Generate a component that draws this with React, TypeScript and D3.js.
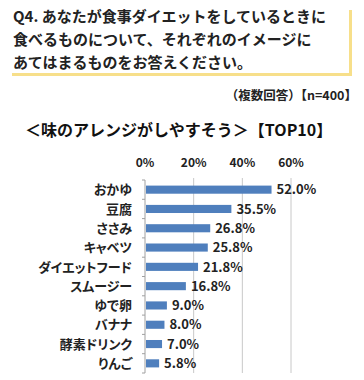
import React, { useEffect, useRef } from "react";
import * as d3 from "d3";

const titleLines = [
  "Q4. あなたが食事ダイエットをしているときに",
  "食べるものについて、それぞれのイメージに",
  "あてはまるものをお答えください。",
];
const noteText = "（複数回答）【n=400】";
const chartTitle = "＜味のアレンジがしやすそう＞【TOP10】";

const categories = [
  "おかゆ",
  "豆腐",
  "ささみ",
  "キャベツ",
  "ダイエットフード",
  "スムージー",
  "ゆで卵",
  "バナナ",
  "酵素ドリンク",
  "りんご",
];
const values = [52.0, 35.5, 26.8, 25.8, 21.8, 16.8, 9.0, 8.0, 7.0, 5.8];
const xTicks = [0, 20, 40, 60];

const W = 364;
const H = 380;
const FONT = "'Noto Sans CJK JP', 'Noto Sans', sans-serif";

export default function App() {
  const ref = useRef<SVGSVGElement>(null);

  useEffect(() => {
    const svg = d3.select(ref.current);
    svg.selectAll("*").remove();

    // header box with yellow shadow
    svg.append("rect")
      .attr("x", 12).attr("y", 73).attr("width", 340).attr("height", 3)
      .attr("fill", "#f7df8a");
    svg.append("rect")
      .attr("x", 349).attr("y", 10).attr("width", 3).attr("height", 66)
      .attr("fill", "#f7df8a");

    svg.selectAll(".qline")
      .data(titleLines)
      .join("text")
      .attr("class", "qline")
      .attr("x", 13)
      .attr("y", (d, i) => 22 + i * 23)
      .style("font-family", FONT)
      .style("font-size", "15px")
      .style("font-weight", "bold")
      .attr("fill", "#222")
      .text(d => d);

    svg.append("text")
      .attr("x", 357).attr("y", 100)
      .attr("text-anchor", "end")
      .style("font-family", FONT)
      .style("font-size", "12.5px")
      .style("font-weight", "bold")
      .attr("fill", "#222")
      .text(noteText);

    svg.append("text")
      .attr("x", 25).attr("y", 136)
      .style("font-family", FONT)
      .style("font-size", "16px")
      .style("font-weight", "bold")
      .attr("fill", "#111")
      .text(chartTitle);

    const x = d3.scaleLinear().domain([0, 60]).range([145, 291]);
    const y = d3.scaleBand().domain(categories).range([180, 373])
      .paddingInner(0.58).paddingOuter(0.29);

    const g = svg.append("g");

    // gridlines
    g.selectAll(".grid")
      .data(xTicks.slice(1))
      .join("line")
      .attr("class", "grid")
      .attr("x1", d => x(d)).attr("x2", d => x(d))
      .attr("y1", 178).attr("y2", 373)
      .attr("stroke", "#c8c8c8").attr("stroke-width", 1);

    // y axis line + ticks
    g.append("line")
      .attr("x1", x(0)).attr("x2", x(0))
      .attr("y1", 180).attr("y2", 373)
      .attr("stroke", "#a0a0a0");
    const step = y.step();
    g.selectAll(".ytick")
      .data(d3.range(categories.length + 1))
      .join("line")
      .attr("class", "ytick")
      .attr("x1", x(0) - 3).attr("x2", x(0))
      .attr("y1", i => 180 + i * step).attr("y2", i => 180 + i * step)
      .attr("stroke", "#a0a0a0");

    // top tick labels
    g.selectAll(".xlab")
      .data(xTicks)
      .join("text")
      .attr("class", "xlab")
      .attr("x", d => x(d))
      .attr("y", 167)
      .attr("text-anchor", "middle")
      .style("font-family", FONT)
      .style("font-size", "12px")
      .style("font-weight", "bold")
      .attr("fill", "#222")
      .text(d => d + "%");

    // bars
    g.selectAll(".bar")
      .data(values)
      .join("rect")
      .attr("class", "bar")
      .attr("x", x(0) + 1)
      .attr("y", (d, i) => y(categories[i])!)
      .attr("width", d => x(d) - x(0) - 1)
      .attr("height", y.bandwidth())
      .attr("fill", "#4f7fbd");

    // value labels
    g.selectAll(".val")
      .data(values)
      .join("text")
      .attr("class", "val")
      .attr("x", d => x(d) + 5)
      .attr("y", (d, i) => y(categories[i])! + y.bandwidth() / 2)
      .attr("dy", "0.36em")
      .style("font-family", FONT)
      .style("font-size", "13px")
      .style("font-weight", "bold")
      .attr("fill", "#222")
      .text(d => d.toFixed(1) + "%");

    // category labels
    g.selectAll(".cat")
      .data(categories)
      .join("text")
      .attr("class", "cat")
      .attr("x", 132)
      .attr("y", d => y(d)! + y.bandwidth() / 2)
      .attr("dy", "0.36em")
      .attr("text-anchor", "end")
      .style("font-family", FONT)
      .style("font-size", "13px")
      .style("font-weight", "bold")
      .style("font-feature-settings", "'palt' 1")
      .attr("fill", "#222")
      .text(d => d);
  }, []);

  return (
    <svg ref={ref} width={W} height={H}
      style={{ position: "absolute", left: 0, top: 0, background: "#fff" }} />
  );
}
